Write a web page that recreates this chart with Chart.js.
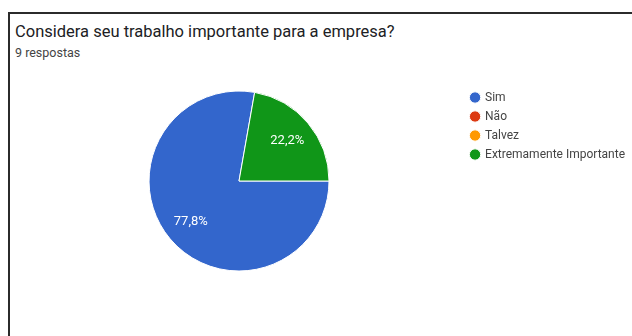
<!DOCTYPE html>
<html lang="pt-BR">
<head>
<meta charset="utf-8">
<title>Considera seu trabalho importante para a empresa?</title>
<script src="https://cdn.jsdelivr.net/npm/chart.js@4.4.1/dist/chart.umd.min.js"></script>
<style>
  html, body { margin: 0; padding: 0; background: #fff; }
  body { width: 632px; height: 336px; position: relative; overflow: hidden; font-family: Roboto, Arial, sans-serif; }
  .card { position: absolute; left: 8px; top: 12px; right: -4px; bottom: -4px; border-left: 2px solid #2b2b2b; border-top: 2px solid #2b2b2b; }
  .title { position: absolute; left: 15px; top: 22px; font-size: 16.5px; color: #202124; white-space: nowrap; }
  .subtitle { position: absolute; left: 15px; top: 45px; font-size: 12.5px; color: #444; white-space: nowrap; }
  #pie { position: absolute; left: 0; top: 60px; }
</style>
</head>
<body>
<div class="card"></div>
<div class="title">Considera seu trabalho importante para a empresa?</div>
<div class="subtitle">9 respostas</div>
<canvas id="pie" width="642" height="276"></canvas>
<script>
const answers = ['Sim', 'Não', 'Talvez', 'Extremamente Importante'];
const counts = [7, 0, 0, 2];
const sliceColors = ['#3366cc', '#dc3912', '#ff9900', '#109618'];

// percentage text inside each non-empty slice, like the forms summary
const sliceLabels = {
  id: 'sliceLabels',
  afterDatasetsDraw(chart) {
    const { ctx } = chart;
    const total = counts.reduce((a, b) => a + b, 0);
    chart.getDatasetMeta(0).data.forEach((arc, i) => {
      if (!counts[i]) return;
      const { x, y, startAngle, endAngle, outerRadius } = arc.getProps(['x', 'y', 'startAngle', 'endAngle', 'outerRadius'], true);
      const mid = (startAngle + endAngle) / 2;
      const r = outerRadius * 0.7;
      const text = `${((counts[i] / total) * 100).toFixed(1).replace('.', ',')}%`;
      ctx.save();
      ctx.fillStyle = '#fff';
      ctx.font = '13px Roboto';
      ctx.textAlign = 'center';
      ctx.textBaseline = 'middle';
      ctx.fillText(text, x + Math.cos(mid) * r, y + Math.sin(mid) * r);
      ctx.restore();
    });
  },
};

new Chart(document.getElementById('pie'), {
  type: 'pie',
  data: {
    labels: answers,
    datasets: [{
      data: counts,
      backgroundColor: sliceColors,
      borderColor: '#ffffff',
      borderWidth: 1,
      radius: 90,
    }],
  },
  options: {
    responsive: false,
    animation: false,
    rotation: 90,
    layout: { padding: { left: 14, right: 7, top: 24.5, bottom: 58.5 } },
    plugins: {
      tooltip: { enabled: false },
      legend: {
        position: 'right',
        align: 'start',
        labels: {
          usePointStyle: true,
          pointStyle: 'circle',
          boxWidth: 8,
          boxHeight: 8,
          padding: 7,
          color: '#444',
          font: { family: 'Roboto', size: 12 },
        },
      },
    },
  },
  plugins: [sliceLabels],
});
</script>
</body>
</html>
